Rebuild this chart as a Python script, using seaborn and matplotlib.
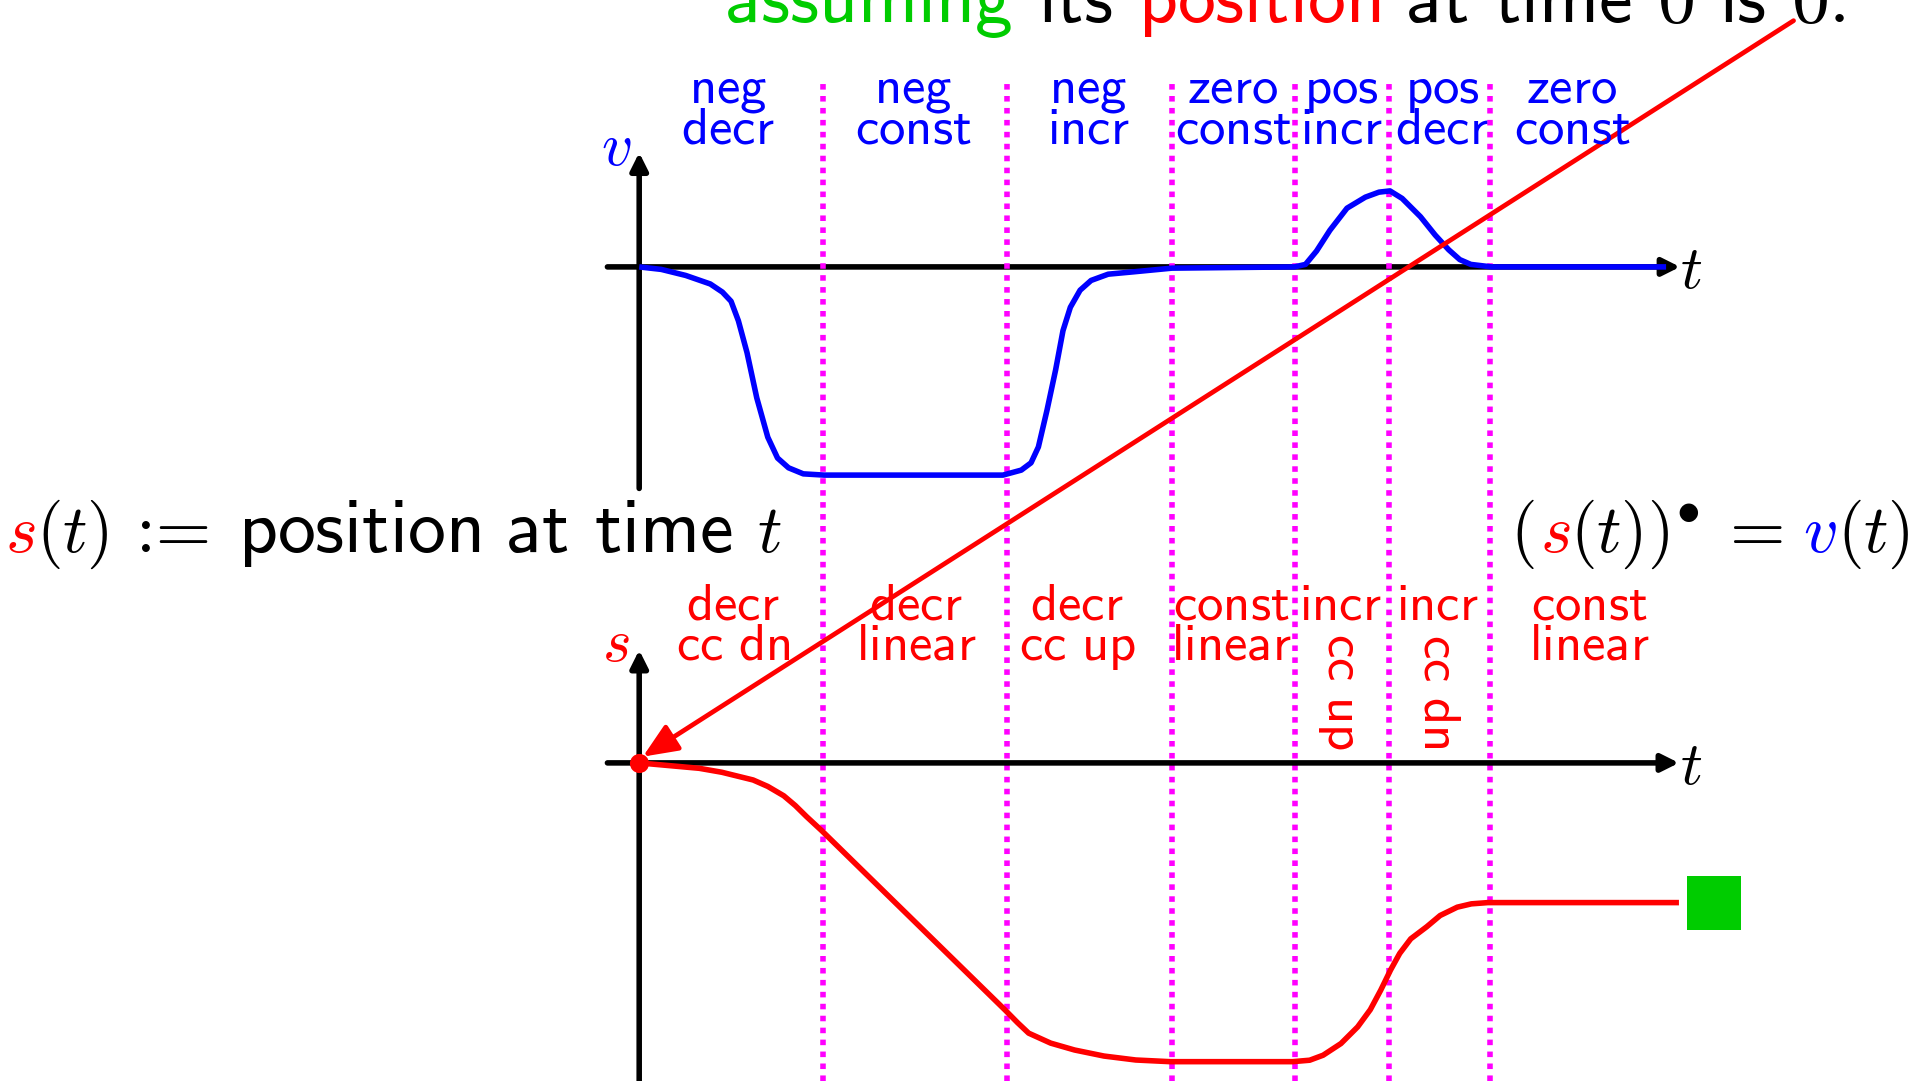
import numpy as np
import pandas as pd
import matplotlib
matplotlib.use("Agg")
import matplotlib.pyplot as plt
import seaborn as sns

# ---------------- data ----------------
# phase boundaries on the time axis (t units)
boundaries = [1.0, 2.0, 2.9, 3.57, 4.08, 4.63]

# velocity curve v(t)
v_t = [0.0, 0.12, 0.253, 0.387, 0.453, 0.5, 0.54, 0.587, 0.64, 0.7, 0.753, 0.813, 0.893, 1.007,
       1.98, 2.08, 2.133, 2.173, 2.22, 2.267, 2.307, 2.347, 2.4, 2.46, 2.553, 2.687, 2.9,
       3.567, 3.627, 3.687, 3.76, 3.853, 3.953, 4.027, 4.087, 4.153, 4.253, 4.333, 4.407,
       4.467, 4.527, 4.64, 5.59]
v_val = [0.0, -0.012, -0.041, -0.082, -0.121, -0.165, -0.259, -0.412, -0.629, -0.818, -0.918, -0.965,
         -0.994, -1.0, -1.0, -0.976, -0.941, -0.865, -0.688, -0.494, -0.306, -0.194, -0.112, -0.065,
         -0.035, -0.024, -0.006, 0.0, 0.012, 0.076, 0.176, 0.282, 0.335, 0.359, 0.365, 0.329, 0.241,
         0.153, 0.082, 0.035, 0.012, 0.0, 0.0]

# position curve s(t)
s_t = [0.0, 0.327, 0.45, 0.62, 0.7, 0.787, 0.85, 0.911, 0.993, 1.993, 2.06, 2.12, 2.24, 2.37,
       2.53, 2.703, 2.89, 3.557, 3.65, 3.723, 3.82, 3.911, 3.98, 4.037, 4.09, 4.14, 4.2, 4.287,
       4.36, 4.453, 4.53, 4.62, 5.66]
s_val = [0.0, -0.026, -0.045, -0.082, -0.113, -0.158, -0.205, -0.258, -0.325, -1.188, -1.248,
         -1.298, -1.346, -1.379, -1.408, -1.427, -1.435, -1.435, -1.428, -1.404, -1.348, -1.268,
         -1.185, -1.091, -0.995, -0.915, -0.845, -0.787, -0.733, -0.693, -0.677, -0.671, -0.671]

object_t, object_s = 5.85, -0.671   # green square (the moving object)

upper_labels = [("neg", "decr"), ("neg", "const"), ("neg", "incr"), ("zero", "const"),
                ("pos", "incr"), ("pos", "decr"), ("zero", "const")]
lower_labels = [("decr", "cc dn"), ("decr", "linear"), ("decr", "cc up"), ("const", "linear"),
                ("incr", "cc up"), ("incr", "cc dn"), ("const", "linear")]
lower_rotated = [False, False, False, False, True, True, False]

# ---------------- style ----------------
sns.set_theme(style="white")
plt.rcParams["mathtext.fontset"] = "cm"
plt.rcParams["font.family"] = ["DejaVu Sans"]

BLUE = "#0000FF"
RED = "#FF0000"
GREEN = "#00CC00"
MAGENTA = "#FF00FF"
BLACK = "#000000"

W, H = 1920, 1081
fig = plt.figure(figsize=(W / 100, H / 100), dpi=100)
fig.patch.set_facecolor("white")

# pixel mapping (layout)
T0_PX, T_UNIT = 639.2, 183.7
V0_PX, S0_PX, Y_UNIT = 266.9, 762.9, 208.2
xlim = (-T0_PX / T_UNIT, (W - T0_PX) / T_UNIT)
vlim = ((V0_PX - H) / Y_UNIT, V0_PX / Y_UNIT)
slim = ((S0_PX - H) / Y_UNIT, S0_PX / Y_UNIT)

ax_v = fig.add_axes([0, 0, 1, 1], label="v")
ax_s = fig.add_axes([0, 0, 1, 1], label="s")


def fx(x):
    return x / W


def fy(y):
    return 1 - y / H


def arrow(ax, start, end, color=BLACK, lw=4, ms=26, style="-|>", z=3):
    ax.annotate("", xy=end, xytext=start, xycoords="data", textcoords="data",
                arrowprops=dict(arrowstyle=style, color=color, lw=lw, mutation_scale=ms,
                                shrinkA=0, shrinkB=0),
                zorder=z, annotation_clip=False)


# curves
df_v = pd.DataFrame({"t": v_t, "v": v_val})
df_s = pd.DataFrame({"t": s_t, "s": s_val})
sns.lineplot(data=df_v, x="t", y="v", sort=False, estimator=None, color=BLUE, lw=4,
             ax=ax_v, zorder=5)
sns.lineplot(data=df_s, x="t", y="s", sort=False, estimator=None, color=RED, lw=4,
             ax=ax_s, zorder=5)
sns.scatterplot(x=[0.0], y=[0.0], s=190, color=RED, linewidth=0, ax=ax_s, zorder=7)
sns.scatterplot(x=[object_t], y=[object_s], marker="s", s=1568, color=GREEN, linewidth=0,
                ax=ax_s, zorder=7)

for ax, lim in ((ax_v, vlim), (ax_s, slim)):
    for ln in ax.lines:
        ln.set_solid_joinstyle("round")
        ln.set_solid_capstyle("butt")
    ax.set_axis_off()
    ax.patch.set_alpha(0)
    ax.set_xlim(*xlim)
    ax.set_ylim(*lim)

# axes with arrows
arrow(ax_v, (0, -1.064), (0, 0.549))
arrow(ax_v, (-0.173, 0), (5.666, 0))
arrow(ax_s, (0, -1.7), (0, 0.542))
arrow(ax_s, (-0.173, 0), (5.66, 0))

# dotted phase boundaries
for b in boundaries:
    ax_v.axvline(b, ymin=0, ymax=1 - 81 / H, color=MAGENTA, lw=4,
                 linestyle=(0, (1.0, 1.15)), zorder=4)

# long red arrow from the top sentence to the origin
arrow(ax_s, (6.284, 3.565), (0.02, 0.03), color=RED, lw=3.4, ms=30,
      style="-|>,head_length=0.7,head_width=0.3", z=8)

# ---------------- text ----------------
renderer = fig.canvas.get_renderer()


def row(pieces, x, y):
    cur = x
    for p in pieces:
        if isinstance(p, (int, float)):
            cur += p
            continue
        s, c, fs, fam = p
        kw = dict(color=c, fontsize=fs, ha="left", va="baseline")
        if fam:
            kw["fontfamily"] = fam
        t = fig.text(fx(cur), fy(y), s, **kw)
        cur += t.get_window_extent(renderer).width
    return cur


TXT = 54.5
MATH = 49
GAP = 25
row([(r"$\mathsf{assuming}$", GREEN, TXT, None), GAP,
     (r"$\mathsf{its}$", BLACK, TXT, None), GAP,
     (r"$\mathsf{position}$", RED, TXT, None), GAP,
     (r"$\mathsf{at}$", BLACK, TXT, None), GAP,
     (r"$\mathsf{time}$", BLACK, TXT, None), GAP,
     (r"$\mathsf{0}$", BLACK, TXT, None), GAP,
     (r"$\mathsf{is}$", BLACK, TXT, None), GAP,
     (r"$\mathsf{0.}$", BLACK, TXT, None)],
    724, 22)

# left definition
row([(r"$s$", RED, MATH, None), (r"$(t)$", BLACK, MATH, None)], 5, 552)
row([(":=", BLACK, MATH * 1.05, "cmr10")], 136, 552)
row([(r"$\mathsf{position}$", BLACK, TXT, None), GAP,
     (r"$\mathsf{at}$", BLACK, TXT, None), GAP,
     (r"$\mathsf{time}$", BLACK, TXT, None), GAP,
     (r"$t$", BLACK, MATH, None)], 238, 552)

# right relation
row([(r"$($", BLACK, MATH, None), 5, (r"$s$", RED, MATH, None),
     (r"$(t))^{\bullet}$", BLACK, MATH, None)], 1510, 552)
row([("=", BLACK, MATH * 1.05, "cmr10")], 1730, 552)
row([(r"$v$", BLUE, MATH, None), (r"$(t)$", BLACK, MATH, None)], 1803, 552)

LAB = 38
upper_cx = [728, 913, 1088, 1233, 1341, 1442, 1572]
for (l1, l2), cx in zip(upper_labels, upper_cx):
    fig.text(fx(cx), fy(102.7), r"$\mathsf{%s}$" % l1, color=BLUE, fontsize=LAB,
             ha="center", va="baseline")
    fig.text(fx(cx), fy(144), r"$\mathsf{%s}$" % l2.replace(" ", r"\ "), color=BLUE,
             fontsize=LAB, ha="center", va="baseline")

lower_cx = [733, 916, 1077, 1231, 1340, 1437, 1589]
for (l1, l2), cx, rot in zip(lower_labels, lower_cx, lower_rotated):
    fig.text(fx(cx), fy(619.3), r"$\mathsf{%s}$" % l1, color=RED, fontsize=LAB,
             ha="center", va="baseline")
    if rot:
        fig.text(fx(cx + 2), fy(691), r"$\mathsf{%s}$" % l2.replace(" ", r"\ "), color=RED,
                 fontsize=LAB, ha="center", va="center", rotation=-90)
    else:
        fig.text(fx(cx), fy(660), r"$\mathsf{%s}$" % l2.replace(" ", r"\ "), color=RED,
                 fontsize=LAB, ha="center", va="baseline")

# axis names
AX = 44
fig.text(fx(616), fy(165), r"$v$", color=BLUE, fontsize=AX, ha="center", va="baseline")
fig.text(fx(616), fy(661), r"$s$", color=RED, fontsize=AX, ha="center", va="baseline")
fig.text(fx(1680), fy(288), r"$t$", color=BLACK, fontsize=AX, ha="left", va="baseline")
fig.text(fx(1680), fy(784), r"$t$", color=BLACK, fontsize=AX, ha="left", va="baseline")

fig.savefig("out.png", dpi=100, facecolor="white")
